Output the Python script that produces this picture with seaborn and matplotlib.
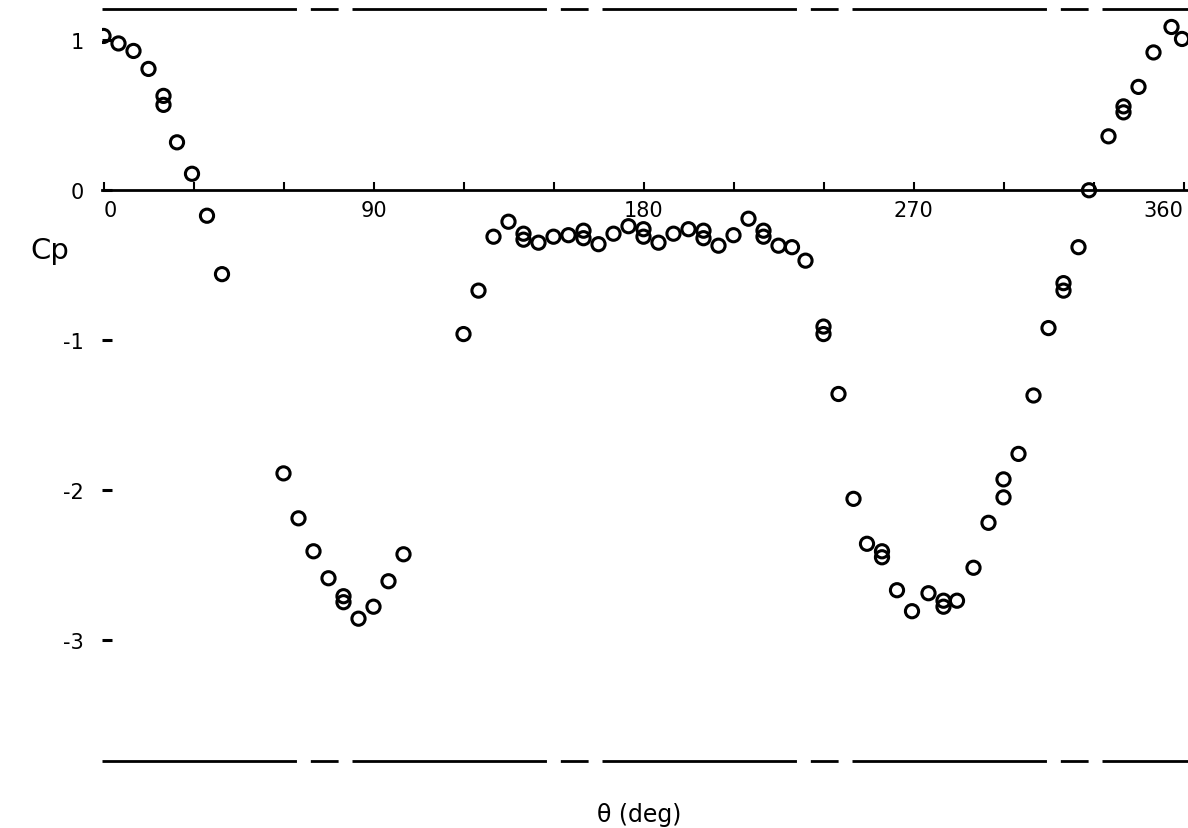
import matplotlib
matplotlib.use("Agg")
import matplotlib.pyplot as plt
import seaborn as sns
import pandas as pd

# Surface pressure coefficient vs angle
theta = [0, 5, 10, 15, 20, 20, 24.5, 29.5, 34.5, 39.5,
         60, 65, 70, 75, 80, 80, 85, 90, 95, 100,
         120, 125, 130, 135, 140, 140, 145, 150, 155, 160, 160, 165, 170, 175,
         180, 180, 185, 190, 195, 200, 200, 205, 210, 215, 220, 220, 225, 229.5, 234,
         240, 240, 245, 250, 254.5, 259.5, 259.5, 264.5, 269.5, 275, 280, 280, 284.5,
         290, 295, 300, 300, 305, 310, 315, 320, 320, 325, 328.5, 335, 340, 340,
         345, 350, 356, 359.5]
cp = [1.03, 0.98, 0.93, 0.81, 0.63, 0.57, 0.32, 0.11, -0.17, -0.56,
      -1.89, -2.19, -2.41, -2.59, -2.71, -2.75, -2.86, -2.78, -2.61, -2.43,
      -0.96, -0.67, -0.31, -0.21, -0.29, -0.33, -0.35, -0.31, -0.30, -0.27, -0.32, -0.36, -0.29, -0.24,
      -0.26, -0.31, -0.35, -0.29, -0.26, -0.27, -0.32, -0.37, -0.30, -0.19, -0.27, -0.31, -0.37, -0.38, -0.47,
      -0.91, -0.96, -1.36, -2.06, -2.36, -2.41, -2.45, -2.67, -2.81, -2.69, -2.74, -2.78, -2.74,
      -2.52, -2.22, -1.93, -2.05, -1.76, -1.37, -0.92, -0.62, -0.67, -0.38, 0.0, 0.36, 0.56, 0.52,
      0.69, 0.92, 1.09, 1.01]

xticks = [0, 30, 60, 90, 120, 150, 180, 210, 240, 270, 300, 330, 360]
xticklabels = ["0", "", "", "90", "", "", "180", "", "", "270", "", "", "360"]
yticks = [1, 0, -1, -2, -3]
yticklabels = ["1", "0", "-1", "-2", "-3"]

df = pd.DataFrame({"theta": theta, "cp": cp})

sns.set_style("white")
plt.rcParams["font.family"] = ["DejaVu Sans"]

fig = plt.figure(figsize=(11.88, 8.29), dpi=100)
ax = fig.add_axes([102 / 1188, 1 - 762 / 829, 1086 / 1188, 752 / 829])

sns.scatterplot(data=df, x="theta", y="cp", ax=ax, marker="o", s=90,
                facecolors="none", edgecolors="black", linewidths=2.2, zorder=3)

ax.set_xlim(-0.5, 361.5)
ax.set_ylim(-3.81, 1.21)

# spines: x axis through cp = 0, no left/right spines
ax.spines["bottom"].set_position(("data", 0))
ax.spines["bottom"].set_linewidth(2)
ax.spines["bottom"].set_color("black")
ax.spines["left"].set_visible(False)
ax.spines["right"].set_visible(False)
ax.spines["top"].set_visible(False)

# broken frame lines at top and bottom
for yv in (1.21, -3.81):
    ax.axhline(yv, color="black", lw=2, ls=(0, (70, 5, 10, 5)), clip_on=False)

ax.set_xticks(xticks)
ax.set_xticklabels(xticklabels)
ax.set_yticks(yticks)
ax.set_yticklabels(yticklabels)
ax.tick_params(axis="x", direction="in", length=6, width=1.5, labelsize=15, pad=7,
               bottom=True, color="black", labelcolor="black")
ax.tick_params(axis="y", direction="in", length=7, width=2.2, labelsize=15, pad=13,
               left=True, color="black", labelcolor="black")
labs = ax.get_xticklabels()
labs[0].set_ha("left")
labs[-1].set_ha("right")

ax.set_ylabel("Cp", rotation=0, fontsize=21, color="black")
ax.yaxis.set_label_coords(-0.048, 0.661)
ax.set_xlabel("θ (deg)", fontsize=17, color="black")
ax.xaxis.set_label_coords(0.495, -0.055)

fig.savefig("out.png", dpi=100)
